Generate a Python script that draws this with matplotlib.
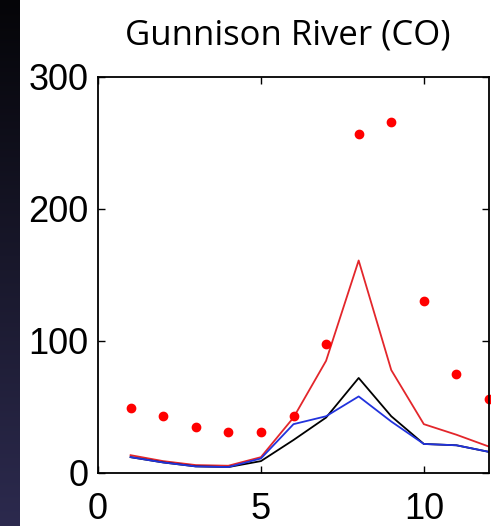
import numpy as np
import matplotlib.pyplot as plt
from matplotlib.colors import LinearSegmentedColormap

months = np.arange(1, 13)
observed = [49, 43, 35, 31, 31, 43, 98, 257, 266, 130, 75, 56]
red_line = [13.5, 9, 6, 5.5, 12, 42, 85, 161, 78, 37, 29, 20]
black_line = [12, 8, 5, 4.5, 9, 25, 42, 72, 43, 22, 21, 16]
blue_line = [12, 8, 5, 4.5, 11, 37, 43, 58, 39, 22, 21, 16]

xticks = [0, 5, 10]
yticks = [0, 100, 200, 300]

W, H = 491, 526
fig = plt.figure(figsize=(W / 100, H / 100), dpi=100)
fig.patch.set_facecolor("white")

# dark slide strip on the left edge
strip = fig.add_axes([0, 0, 20 / W, 1])
grad = np.linspace(0, 1, 256).reshape(-1, 1)
cmap = LinearSegmentedColormap.from_list("slide", ["#2c2a4e", "#050508"])
strip.imshow(grad, aspect="auto", cmap=cmap, origin="lower")
strip.set_axis_off()

ax = fig.add_axes([98 / W, (H - 473) / H, (489 - 98) / W, (473 - 77) / H])
ax.plot(months, red_line, color="#e3262b", lw=1.3)
ax.plot(months, black_line, color="black", lw=1.3)
ax.plot(months, blue_line, color="#2233dd", lw=1.3)
ax.plot(months, observed, "o", color="#ff0000", ms=6, clip_on=False)

ax.set_xlim(0, 12)
ax.set_ylim(0, 300)
ax.set_xticks(xticks)
ax.set_yticks(yticks)
ax.tick_params(direction="in", length=5, width=1, top=True, right=True,
               labelsize=26)
ax.tick_params(axis="x", pad=14)
ax.tick_params(axis="y", pad=7)
for lab in ax.get_xticklabels() + ax.get_yticklabels():
    lab.set_family("Liberation Sans")
for s in ax.spines.values():
    s.set_linewidth(1.3)

fig.text(288 / W, 1 - 36 / H, "Gunnison River (CO)", ha="center", va="center",
         fontsize=25, family="Open Sans")

fig.savefig("out.png", dpi=100)
